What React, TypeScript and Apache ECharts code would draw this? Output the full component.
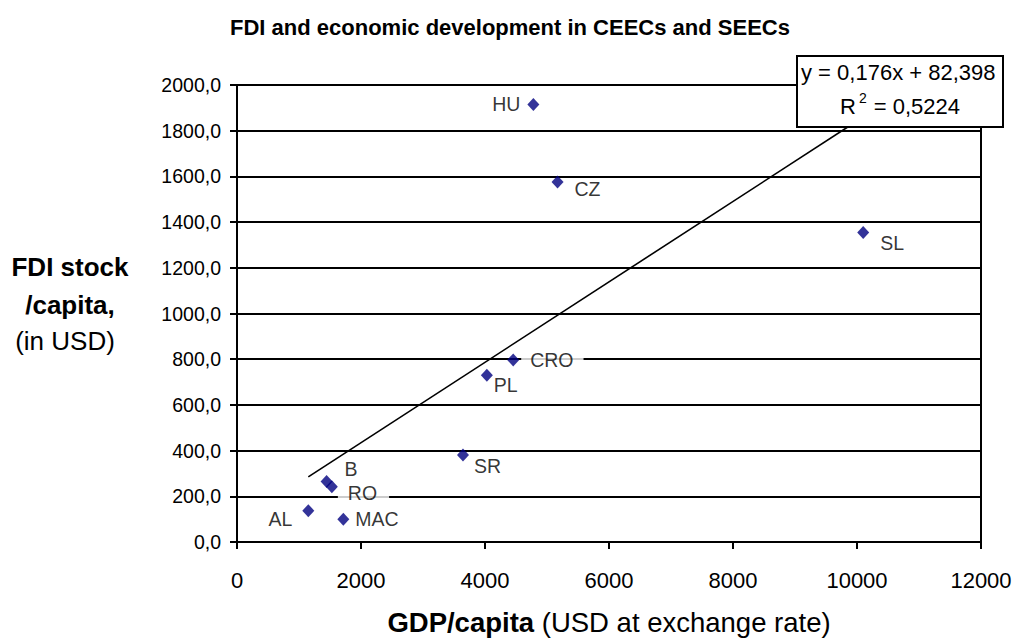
import React, { useEffect, useRef } from "react";
import * as echarts from "echarts";

const countries = ["HU", "CZ", "SL", "CRO", "PL", "SR", "B", "RO", "AL", "MAC"];
const gdpPerCapita = [4780, 5170, 10100, 4455, 4030, 3645, 1445, 1530, 1150, 1715];
const fdiPerCapita = [1915, 1575, 1355, 797, 730, 381, 265, 242, 137, 100];
const xTicks = [0, 2000, 4000, 6000, 8000, 10000, 12000];
const yTicks = [0, 200, 400, 600, 800, 1000, 1200, 1400, 1600, 1800, 2000];
const trendSlope = 0.176;
const trendIntercept = 82.398;
const trendEquation = "y = 0,176x + 82,398";
const trendR2 = "0,5224";

type LabelCfg = { position: string; offset: number[]; distance: number; bg?: number[] };
const labelCfg: Record<string, LabelCfg> = {
  HU: { position: "left", offset: [0, 0], distance: 7 },
  CZ: { position: "right", offset: [0, 7], distance: 11 },
  SL: { position: "right", offset: [0, 11], distance: 11 },
  CRO: { position: "right", offset: [0, 0], distance: 2, bg: [2, 10, 2, 9] },
  PL: { position: "right", offset: [0, 10], distance: 1 },
  SR: { position: "right", offset: [0, 11], distance: 5 },
  B: { position: "right", offset: [0, -12], distance: 12 },
  RO: { position: "right", offset: [0, 6], distance: 0, bg: [2, 12, 2, 10] },
  AL: { position: "left", offset: [0, 8], distance: 10 },
  MAC: { position: "right", offset: [0, 0], distance: 6 },
};

const FONT = "Liberation Sans, Arial, sans-serif";

export default function App() {
  const ref = useRef<HTMLDivElement>(null);
  useEffect(() => {
    if (!ref.current) return;
    const chart = echarts.init(ref.current, null, { renderer: "svg" });
    const xmin = Math.min(...gdpPerCapita);
    const xmax = Math.max(...gdpPerCapita);
    const trend = [
      [xmin, trendSlope * xmin + trendIntercept],
      [xmax, trendSlope * xmax + trendIntercept],
    ];
    const data = countries.map((c, i) => {
      const cfg = labelCfg[c];
      return {
        name: c,
        value: [gdpPerCapita[i], fdiPerCapita[i]],
        label: {
          show: true,
          formatter: c,
          position: cfg.position,
          offset: cfg.offset,
          distance: cfg.distance,
          color: "#000",
          fontFamily: FONT,
          fontSize: 19.5,
          backgroundColor: cfg.bg ? "#fff" : "transparent",
          padding: cfg.bg ? cfg.bg : 0,
        },
      };
    });
    chart.setOption({
      animation: false,
      backgroundColor: "#fff",
      title: {
        text: "FDI and economic development in CEECs and SEECs",
        left: "center",
        top: 11,
        textStyle: { fontFamily: FONT, fontSize: 22, fontWeight: "bold", color: "#000" },
      },
      grid: {
        left: 237,
        right: 39,
        top: 85,
        bottom: 100,
        show: true,
        borderColor: "#000",
        borderWidth: 2,
        backgroundColor: "transparent",
      },
      xAxis: {
        type: "value",
        min: 0,
        max: 12000,
        interval: 2000,
        axisLine: { show: true, lineStyle: { color: "#000", width: 2 } },
        axisTick: { show: true, inside: false, length: 7, lineStyle: { color: "#000", width: 2 } },
        splitLine: { show: false },
        axisLabel: {
          color: "#000",
          fontFamily: FONT,
          fontSize: 22,
          margin: 27,
          formatter: (v: number) => (xTicks.includes(v) ? String(v) : ""),
        },
      },
      yAxis: {
        type: "value",
        min: 0,
        max: 2000,
        interval: 200,
        axisLine: { show: true, lineStyle: { color: "#000", width: 2 } },
        axisTick: { show: true, inside: false, length: 7, lineStyle: { color: "#000", width: 2 } },
        splitLine: { show: true, lineStyle: { color: "#000", width: 2 } },
        axisLabel: {
          color: "#000",
          fontFamily: FONT,
          fontSize: 19.5,
          margin: 16,
          formatter: (v: number) => (yTicks.includes(v) ? v.toFixed(1).replace(".", ",") : ""),
        },
      },
      series: [
        {
          type: "line",
          data: trend,
          symbol: "none",
          lineStyle: { color: "#000", width: 1.6 },
          silent: true,
          z: 1,
        },
        {
          type: "scatter",
          symbol: "diamond",
          symbolSize: [12, 13],
          itemStyle: { color: "#000080" },
          data,
          z: 3,
        },
      ],
      graphic: [
        {
          type: "rect",
          shape: { x: 797, y: 56, width: 206, height: 71 },
          style: { fill: "#fff", stroke: "#000", lineWidth: 2 },
          z: 100,
        },
        {
          type: "text",
          x: 801,
          y: 72,
          style: {
            text: trendEquation,
            fontFamily: FONT,
            fontSize: 22,
            fill: "#000",
            align: "left",
            verticalAlign: "middle",
          },
          z: 101,
        },
        {
          type: "text",
          x: 900,
          y: 104,
          style: {
            text: "{n|R}{s|2}{n| = " + trendR2 + "}",
            align: "center",
            verticalAlign: "middle",
            rich: {
              n: { fontFamily: FONT, fontSize: 22, color: "#000", lineHeight: 26, verticalAlign: "bottom" },
              s: { fontFamily: FONT, fontSize: 14, color: "#000", lineHeight: 26, verticalAlign: "top", padding: [0, 1, 0, 3] },
            },
          },
          z: 101,
        },
        {
          type: "text",
          x: 609,
          y: 622,
          style: {
            text: "{b|GDP/capita}{n| (USD at exchange rate)}",
            align: "center",
            verticalAlign: "middle",
            rich: {
              b: { fontFamily: FONT, fontSize: 27.5, fontWeight: "bold", color: "#000" },
              n: { fontFamily: FONT, fontSize: 27.5, color: "#000" },
            },
          },
          z: 101,
        },
        {
          type: "text",
          x: 70,
          y: 267,
          style: {
            text: "FDI stock",
            fontFamily: FONT,
            fontSize: 26,
            fontWeight: "bold",
            fill: "#000",
            align: "center",
            verticalAlign: "middle",
          },
          z: 101,
        },
        {
          type: "text",
          x: 70,
          y: 305,
          style: {
            text: "/capita,",
            fontFamily: FONT,
            fontSize: 26,
            fontWeight: "bold",
            fill: "#000",
            align: "center",
            verticalAlign: "middle",
          },
          z: 101,
        },
        {
          type: "text",
          x: 65,
          y: 341,
          style: {
            text: "(in USD)",
            fontFamily: FONT,
            fontSize: 26,
            fill: "#000",
            align: "center",
            verticalAlign: "middle",
          },
          z: 101,
        },
      ],
    });
    return () => chart.dispose();
  }, []);
  return <div ref={ref} style={{ width: 1020, height: 642, marginLeft: -8, marginTop: -8 }} />;
}
